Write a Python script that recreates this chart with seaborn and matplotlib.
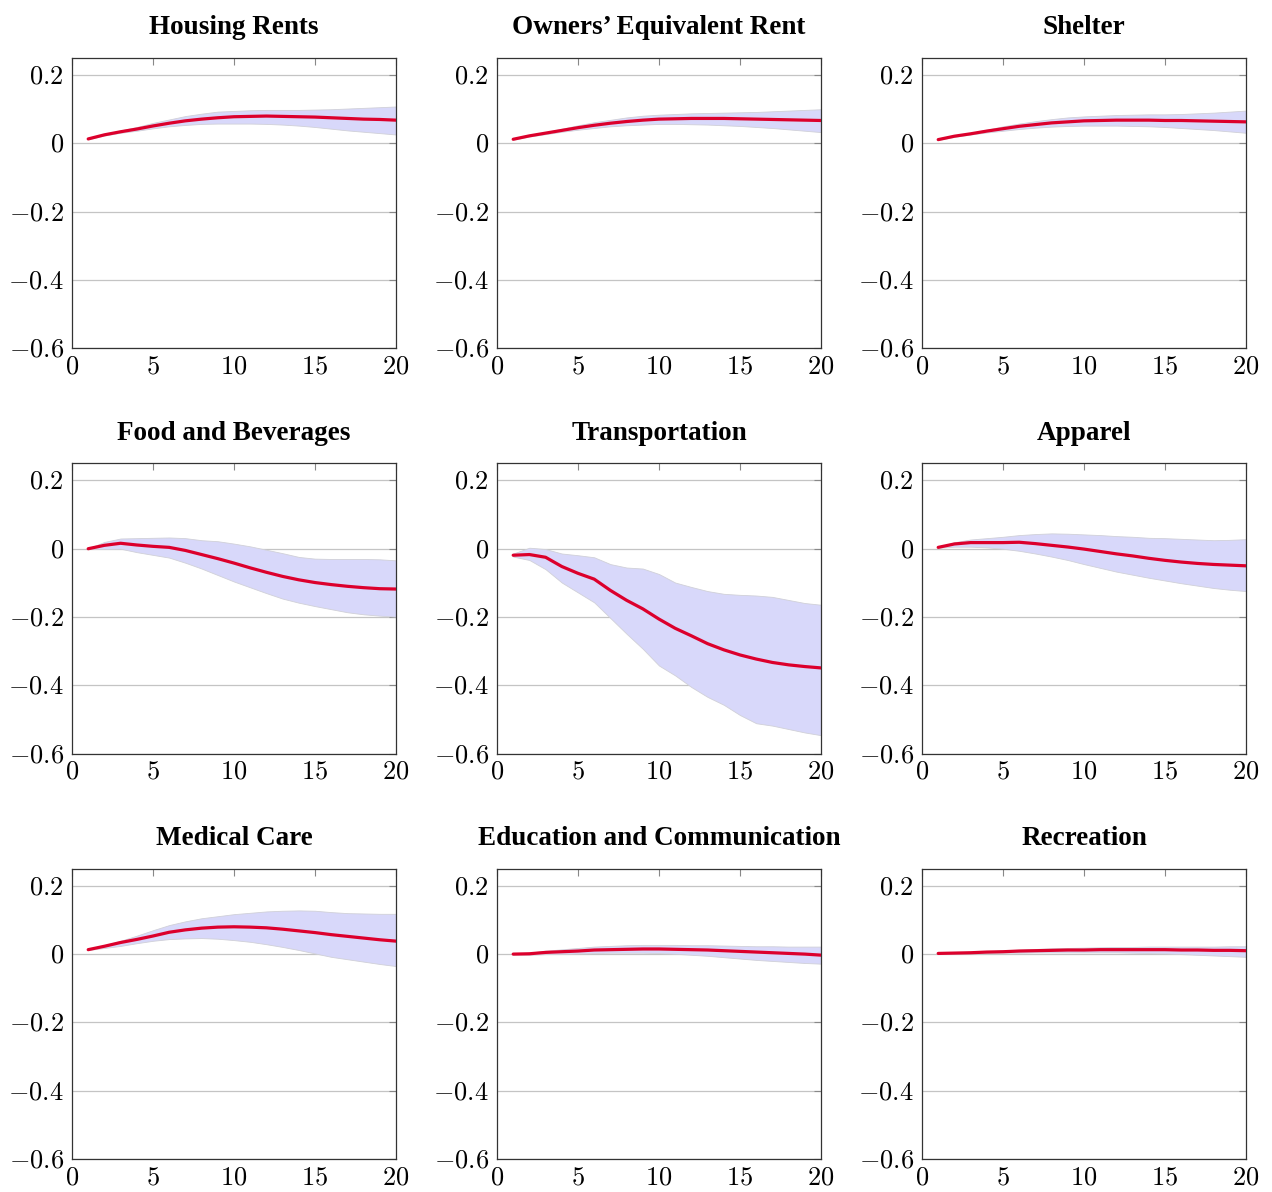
import numpy as np
import pandas as pd
import matplotlib
matplotlib.use("Agg")
import matplotlib.pyplot as plt
import seaborn as sns

# horizonte (meses)
horizon = list(range(1, 21))

titles = ["Housing Rents", "Owners\u2019 Equivalent Rent", "Shelter",
          "Food and Beverages", "Transportation", "Apparel",
          "Medical Care", "Education and Communication", "Recreation"]

# respuesta al impulso y bandas
housing_irf = [0.013, 0.025, 0.034, 0.042, 0.051, 0.059, 0.066, 0.071, 0.075, 0.078,
               0.079, 0.080, 0.079, 0.078, 0.077, 0.075, 0.073, 0.071, 0.070, 0.068]
housing_hi = [0.014, 0.027, 0.038, 0.048, 0.060, 0.070, 0.080, 0.087, 0.093, 0.095,
              0.097, 0.098, 0.098, 0.098, 0.099, 0.100, 0.102, 0.104, 0.106, 0.108]
housing_lo = [0.012, 0.023, 0.031, 0.037, 0.044, 0.050, 0.054, 0.057, 0.058, 0.058,
              0.058, 0.057, 0.055, 0.052, 0.048, 0.043, 0.038, 0.034, 0.030, 0.026]

oer_irf = [0.012, 0.022, 0.030, 0.038, 0.046, 0.053, 0.059, 0.064, 0.068, 0.071,
           0.072, 0.073, 0.073, 0.073, 0.072, 0.071, 0.070, 0.069, 0.068, 0.067]
oer_hi = [0.013, 0.024, 0.033, 0.043, 0.053, 0.062, 0.069, 0.076, 0.081, 0.084,
          0.086, 0.088, 0.089, 0.090, 0.091, 0.092, 0.094, 0.096, 0.098, 0.100]
oer_lo = [0.011, 0.020, 0.027, 0.034, 0.040, 0.045, 0.050, 0.053, 0.055, 0.057,
          0.057, 0.056, 0.055, 0.053, 0.051, 0.048, 0.045, 0.041, 0.037, 0.033]

shelter_irf = [0.011, 0.021, 0.028, 0.036, 0.043, 0.050, 0.055, 0.060, 0.063, 0.066,
               0.067, 0.068, 0.068, 0.068, 0.067, 0.067, 0.066, 0.065, 0.064, 0.063]
shelter_hi = [0.012, 0.023, 0.031, 0.040, 0.050, 0.058, 0.065, 0.071, 0.076, 0.079,
              0.081, 0.083, 0.084, 0.085, 0.085, 0.086, 0.088, 0.090, 0.093, 0.096]
shelter_lo = [0.010, 0.019, 0.026, 0.032, 0.037, 0.042, 0.046, 0.049, 0.051, 0.052,
              0.052, 0.052, 0.051, 0.050, 0.048, 0.045, 0.042, 0.039, 0.035, 0.031]

food_irf = [0.000, 0.010, 0.016, 0.011, 0.007, 0.004, -0.005, -0.017, -0.029, -0.042,
            -0.056, -0.069, -0.081, -0.091, -0.099, -0.105, -0.110, -0.114, -0.117, -0.118]
food_hi = [0.001, 0.020, 0.030, 0.031, 0.032, 0.033, 0.031, 0.025, 0.022, 0.015,
           0.007, -0.003, -0.013, -0.024, -0.029, -0.030, -0.030, -0.030, -0.031, -0.034]
food_lo = [-0.001, -0.001, 0.000, -0.010, -0.018, -0.026, -0.041, -0.058, -0.077, -0.096,
           -0.113, -0.130, -0.146, -0.158, -0.168, -0.177, -0.186, -0.192, -0.196, -0.199]

transp_irf = [-0.019, -0.017, -0.025, -0.052, -0.072, -0.089, -0.122, -0.151, -0.176, -0.206,
              -0.233, -0.255, -0.278, -0.296, -0.311, -0.323, -0.333, -0.340, -0.345, -0.349]
transp_hi = [-0.014, 0.003, -0.001, -0.014, -0.019, -0.025, -0.045, -0.055, -0.058, -0.074,
             -0.099, -0.112, -0.124, -0.132, -0.135, -0.137, -0.141, -0.150, -0.159, -0.164]
transp_lo = [-0.023, -0.033, -0.060, -0.099, -0.128, -0.157, -0.203, -0.249, -0.293, -0.342,
             -0.371, -0.405, -0.434, -0.457, -0.487, -0.511, -0.518, -0.528, -0.538, -0.546]

apparel_irf = [0.004, 0.014, 0.018, 0.018, 0.018, 0.019, 0.015, 0.010, 0.005, -0.001,
               -0.008, -0.015, -0.021, -0.028, -0.034, -0.039, -0.043, -0.046, -0.048, -0.050]
apparel_hi = [0.005, 0.019, 0.027, 0.031, 0.035, 0.040, 0.043, 0.045, 0.044, 0.042,
              0.040, 0.037, 0.035, 0.032, 0.031, 0.029, 0.027, 0.025, 0.026, 0.028]
apparel_lo = [0.003, 0.006, 0.006, 0.004, 0.000, -0.006, -0.014, -0.023, -0.033, -0.045,
              -0.056, -0.067, -0.076, -0.085, -0.093, -0.101, -0.108, -0.115, -0.120, -0.124]

medical_irf = [0.013, 0.023, 0.034, 0.043, 0.053, 0.064, 0.071, 0.076, 0.079, 0.080,
               0.079, 0.077, 0.073, 0.068, 0.063, 0.057, 0.052, 0.047, 0.042, 0.038]
medical_hi = [0.014, 0.026, 0.039, 0.054, 0.070, 0.085, 0.096, 0.105, 0.111, 0.117,
              0.121, 0.125, 0.127, 0.128, 0.127, 0.123, 0.120, 0.119, 0.118, 0.118]
medical_lo = [0.012, 0.018, 0.024, 0.032, 0.039, 0.044, 0.046, 0.047, 0.045, 0.041,
              0.036, 0.029, 0.021, 0.012, 0.002, -0.008, -0.015, -0.022, -0.029, -0.035]

educ_irf = [0.000, 0.001, 0.005, 0.007, 0.009, 0.012, 0.013, 0.014, 0.015, 0.015,
            0.014, 0.013, 0.012, 0.010, 0.008, 0.006, 0.004, 0.002, 0.000, -0.003]
educ_hi = [0.001, 0.004, 0.010, 0.014, 0.018, 0.022, 0.024, 0.026, 0.027, 0.027,
           0.027, 0.026, 0.026, 0.025, 0.024, 0.023, 0.023, 0.022, 0.022, 0.022]
educ_lo = [-0.001, -0.002, 0.000, 0.001, 0.002, 0.003, 0.004, 0.004, 0.004, 0.003,
           0.001, -0.002, -0.005, -0.009, -0.013, -0.017, -0.020, -0.023, -0.026, -0.028]

recr_irf = [0.002, 0.003, 0.004, 0.006, 0.007, 0.009, 0.010, 0.011, 0.012, 0.012,
            0.013, 0.013, 0.013, 0.013, 0.013, 0.012, 0.012, 0.011, 0.011, 0.010]
recr_hi = [0.003, 0.004, 0.006, 0.008, 0.011, 0.013, 0.015, 0.017, 0.018, 0.019,
           0.020, 0.021, 0.021, 0.022, 0.022, 0.022, 0.022, 0.022, 0.023, 0.023]
recr_lo = [0.001, 0.002, 0.002, 0.003, 0.004, 0.004, 0.005, 0.005, 0.005, 0.005,
           0.005, 0.005, 0.004, 0.003, 0.002, 0.000, -0.002, -0.004, -0.006, -0.008]

irfs = [housing_irf, oer_irf, shelter_irf, food_irf, transp_irf, apparel_irf,
        medical_irf, educ_irf, recr_irf]
his = [housing_hi, oer_hi, shelter_hi, food_hi, transp_hi, apparel_hi,
       medical_hi, educ_hi, recr_hi]
los = [housing_lo, oer_lo, shelter_lo, food_lo, transp_lo, apparel_lo,
       medical_lo, educ_lo, recr_lo]

y_ticks = [-0.6, -0.4, -0.2, 0, 0.2]
x_ticks = [0, 5, 10, 15, 20]

sns.set_style("white")
plt.rcParams['font.family'] = ['Liberation Serif', 'DejaVu Serif']
plt.rcParams['mathtext.fontset'] = 'cm'
plt.rcParams['text.color'] = 'black'
plt.rcParams['xtick.labelcolor'] = 'black'
plt.rcParams['ytick.labelcolor'] = 'black'

fig, axes = plt.subplots(3, 3, figsize=(12.72, 11.92), dpi=100)
fig.subplots_adjust(left=72/1272, right=1246/1272, top=1-58/1192, bottom=1-1159/1192,
                    wspace=101/324, hspace=115/290)

for i, ax in enumerate(axes.flat):
    df = pd.DataFrame({"h": horizon, "irf": irfs[i], "hi": his[i], "lo": los[i]})
    ax.fill_between(df["h"], df["lo"], df["hi"], color="#d8d8fa", edgecolor="#d0d0d8",
                    linewidth=0.6, zorder=1)
    sns.lineplot(data=df, x="h", y="irf", ax=ax, color="#dc002c", linewidth=2.3, zorder=3)
    ax.set_xlim(0, 20)
    ax.set_ylim(-0.6, 0.25)
    ax.set_xticks(x_ticks)
    ax.set_yticks(y_ticks)
    ax.set_xticklabels([f"${v}$" for v in x_ticks])
    ax.set_yticklabels([f"${v:g}$" for v in y_ticks])
    ax.grid(axis="y", color="#c4c4c4", linewidth=0.9, zorder=0)
    ax.set_axisbelow(True)
    ax.tick_params(direction="in", length=5, width=0.8, color="#888888",
                   labelcolor="black", top=True, right=True, labelsize=19, pad=6)
    ax.tick_params(axis="x", pad=6)
    for s in ax.spines.values():
        s.set_color("#333333")
        s.set_linewidth(0.9)
    ax.set_xlabel("")
    ax.set_ylabel("")
    ax.set_title(titles[i], fontsize=19.5, fontweight="bold", pad=17, color="black")

plt.savefig("out.png", dpi=100)
